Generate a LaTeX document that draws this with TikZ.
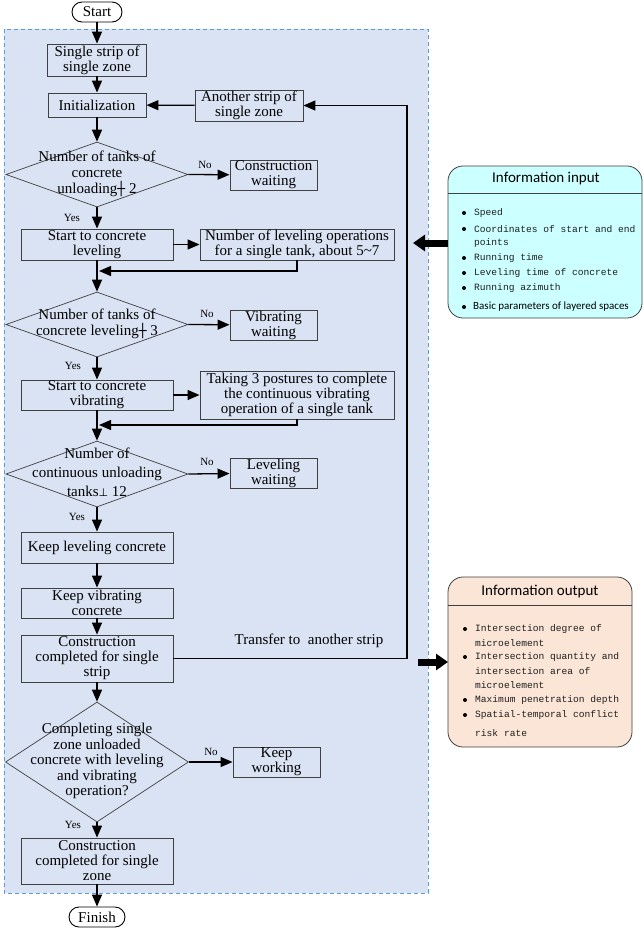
\documentclass[tikz,border=0pt]{standalone}
\usepackage{fontspec}
\setmainfont{Liberation Serif}
\newfontfamily\symfont{DejaVu Sans}
\newfontfamily\itemfont{Liberation Mono}
\newfontfamily\calfont{Carlito}
\usetikzlibrary{shapes.geometric,arrows.meta}
\definecolor{bgc}{RGB}{218,227,243}
\definecolor{framec}{RGB}{91,155,213}
\definecolor{boxc}{RGB}{64,64,64}
\definecolor{inc}{RGB}{204,255,255}
\definecolor{outc}{RGB}{251,229,214}
\definecolor{itemc}{RGB}{30,30,30}
\tikzset{
  box/.style={draw=boxc, line width=0.9pt, fill=bgc, inner sep=0pt, align=center,
    font=\fontsize{15}{15}\selectfont},
  term/.style={draw=black, line width=0.9pt, fill=white, rounded corners=10pt, inner sep=0pt,
    font=\fontsize{15}{15}\selectfont},
  dia/.style={draw=boxc, line width=0.7pt, diamond, inner sep=0pt},
  diatext/.style={align=center, inner sep=0pt, font=\fontsize{15}{16}\selectfont},
  arr/.style={draw=black, line width=1.3pt, -{Triangle[length=12pt,width=10pt]}},
  yn/.style={inner sep=0pt, font=\fontsize{11}{11}\selectfont},
  panel/.style={draw=boxc, line width=0.8pt, rounded corners=15pt},
  itm/.style={anchor=west, inner sep=0pt, text=itemc, font=\itemfont\fontsize{9.6}{10}\selectfont},
  bul/.style={fill=black, circle, inner sep=0pt, minimum size=4pt},
  bigarr/.style={draw=black, line width=7pt, -{Triangle[length=12pt,width=16pt]}}
}
\newcommand{\geqsym}{{\symfont\fontsize{13}{13}\selectfont ┼}}
\newcommand{\botsym}{{\symfont\fontsize{11}{11}\selectfont ⊥}}
\begin{document}
\begin{tikzpicture}[x=1pt,y=-1pt]
\useasboundingbox (0,0) rectangle (643,930);
% frame
\fill[bgc] (4,29) rectangle (428,893);
\draw[framec, line width=0.9pt, dash pattern=on 4pt off 3pt] (4,29) rectangle (428,893);

% terminals
\node[term, minimum width=50pt, minimum height=20pt] (start) at (97,12) {Start};
\node[term, minimum width=56pt, minimum height=20pt] (finish) at (97,917) {Finish};

% boxes
\node[box, minimum width=99pt, minimum height=32pt] (ss) at (97,60) {Single strip of\\single zone};
\node[box, minimum width=98pt, minimum height=24pt] (init) at (97,105) {Initialization};
\node[box, minimum width=108pt, minimum height=31pt] (another) at (249,105.5) {Another strip of\\single zone};
\node[dia, minimum width=182pt, minimum height=65pt] (d1) at (97,174.5) {};
\node[diatext] at (97,174) {Number of tanks of\\concrete\\unloading\geqsym\ 2};
\node[box, minimum width=87pt, minimum height=30pt] (cw) at (273.5,175) {Construction\\waiting};
\node[box, minimum width=152pt, minimum height=31pt] (lev) at (97,244.5) {Start to concrete\\leveling};
\node[box, minimum width=194pt, minimum height=31pt] (nlo) at (297,244.5) {Number of leveling operations\\for a single tank, about 5\textasciitilde7};
\node[dia, minimum width=182pt, minimum height=65pt] (d2) at (97,324.5) {};
\node[diatext] at (97,324) {Number of tanks of\\concrete leveling\geqsym\ 3};
\node[box, minimum width=87pt, minimum height=30pt] (vw) at (273.5,325) {Vibrating\\waiting};
\node[box, minimum width=152pt, minimum height=30pt] (vib) at (97,395) {Start to concrete\\vibrating};
\node[box, minimum width=194pt, minimum height=48pt] (t3p) at (297,395) {Taking 3 postures to complete\\the continuous vibrating\\operation of a single tank};
\node[dia, minimum width=182pt, minimum height=66pt] (d3) at (97,474) {};
\node[diatext, font=\fontsize{15}{19}\selectfont] at (97,472.5) {Number of\\continuous unloading\\tanks\botsym\ 12};
\node[box, minimum width=87pt, minimum height=30pt] (lw) at (273.5,473) {Leveling\\waiting};
\node[box, minimum width=152pt, minimum height=31pt] (klc) at (97,547.5) {Keep leveling concrete};
\node[box, minimum width=152pt, minimum height=30pt] (kvc) at (97,603) {Keep vibrating\\concrete};
\node[box, minimum width=152pt, minimum height=47pt] (ccs) at (97,658.5) {Construction\\completed for single\\strip};
\node[dia, minimum width=183pt, minimum height=120pt] (d4) at (97,762) {};
\node[diatext, font=\fontsize{15}{15.5}\selectfont] at (97,761) {Completing single\\zone unloaded\\concrete with leveling\\and vibrating\\operation?};
\node[box, minimum width=87pt, minimum height=30pt] (kw) at (276.5,762) {Keep\\working};
\node[box, minimum width=152pt, minimum height=46pt] (ccz) at (97,861) {Construction\\completed for single\\zone};
\node[inner sep=0pt, font=\fontsize{15}{15}\selectfont] (tr) at (309,641) {Transfer to\ \ another strip};

% helper coordinates
\coordinate (j1) at (99,271);
\coordinate (j2) at (99,425);
\coordinate (fb) at (407,400);

% connectors
\draw[arr] (start) -- (ss);
\draw[arr] (ss) -- (init);
\draw[arr] (init) -- (d1.north);
\draw[arr] (d1.south) -- (lev);
\draw[arr] (d1.east) -- (cw);
\draw[arr] (lev) -- (nlo);
\draw[arr] (lev) -- (d2.north);
\draw[arr] (nlo.south) |- (j1);
\draw[arr] (d2.east) -- (vw);
\draw[arr] (d2.south) -- (vib);
\draw[arr] (vib) -- (t3p);
\draw[arr] (vib) -- (d3.north);
\draw[arr] (t3p.south) |- (j2);
\draw[arr] (d3.east) -- (lw);
\draw[arr] (d3.south) -- (klc);
\draw[arr] (klc) -- (kvc);
\draw[arr] (kvc) -- (ccs);
\draw[arr] (ccs.east) -| (fb) |- (another.east);
\draw[arr] (another) -- (init);
\draw[arr] (ccs) -- (d4.north);
\draw[arr] (d4.east) -- (kw);
\draw[arr] (d4.south) -- (ccz);
\draw[arr] (ccz) -- (finish);

% yes/no labels
\node[yn] at (205,165) {No};
\node[yn] at (207,314) {No};
\node[yn] at (207,462) {No};
\node[yn] at (211,752) {No};
\node[yn] at (72,218) {Yes};
\node[yn] at (73,366) {Yes};
\node[yn] at (77,517) {Yes};
\node[yn] at (73,825) {Yes};

% input panel
\filldraw[panel, fill=inc] (448,166) rectangle (642,318);
\draw[boxc, line width=0.8pt] (448,193) -- (642,193);
\node[inner sep=0pt, font=\calfont\fontsize{15}{15}\selectfont] (inh) at (546,179) {Information input};
\foreach \y/\t in {213/Speed, 229/Coordinates of start and end, 258/Running time, 273/Leveling time of concrete, 288/Running azimuth}
  {\node[bul] at (464,\y) {}; \node[itm] at (474,\y) {\t};}
\node[itm] at (474,243) {points};
\node[bul] at (464,307) {};
\node[itm, text=black, font=\calfont\fontsize{11}{11}\selectfont] at (473,307) {Basic parameters of layered spaces};
\node[inner sep=0pt] (inl) at (448,243) {};
\coordinate (int) at (413,243);
\draw[bigarr] (inl.center) -- (int);

% output panel
\filldraw[panel, fill=outc] (448,577) rectangle (632,747);
\draw[boxc, line width=0.8pt] (448,605) -- (632,605);
\node[inner sep=0pt, font=\calfont\fontsize{15}{15}\selectfont] (outh) at (540,592) {Information output};
\foreach \y/\t in {629/Intersection degree of, 657/Intersection quantity and, 700/Maximum penetration depth, 715/Spatial-temporal conflict}
  {\node[bul] at (465,\y) {}; \node[itm] at (475,\y) {\t};}
\node[itm] at (475,643) {microelement};
\node[itm] at (475,671) {intersection area of};
\node[itm] at (475,685) {microelement};
\node[itm] at (475,733) {risk rate};
\node[inner sep=0pt] (outl) at (448,662) {};
\coordinate (outs) at (418,662);
\draw[bigarr] (outs) -- (outl.center);
\end{tikzpicture}
\end{document}
